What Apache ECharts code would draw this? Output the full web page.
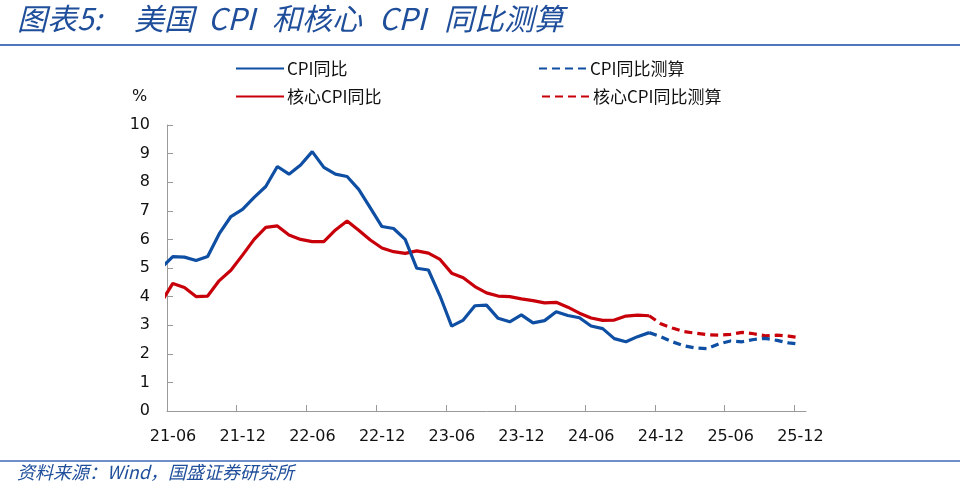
<!DOCTYPE html>
<html>
<head>
<meta charset="utf-8">
<script src="https://cdn.jsdelivr.net/npm/echarts@6/dist/echarts.min.js"></script>
<style>
html,body{margin:0;padding:0;background:#fff;}
#chart{width:960px;height:490px;}
</style>
</head>
<body>
<div id="chart"></div>
<script>
// Months (x categories), starting one month before the visible axis start
const months = ['21-05','21-06','21-07','21-08','21-09','21-10','21-11','21-12',
  '22-01','22-02','22-03','22-04','22-05','22-06','22-07','22-08','22-09','22-10','22-11','22-12',
  '23-01','23-02','23-03','23-04','23-05','23-06','23-07','23-08','23-09','23-10','23-11','23-12',
  '24-01','24-02','24-03','24-04','24-05','24-06','24-07','24-08','24-09','24-10','24-11','24-12',
  '25-01','25-02','25-03','25-04','25-05','25-06','25-07','25-08','25-09','25-10','25-11','25-12'];
const tickLabels = ['21-06','21-12','22-06','22-12','23-06','23-12','24-06','24-12','25-06','25-12'];
const yTicks = [0,1,2,3,4,5,6,7,8,9,10];

// Actual values 21-05 .. 24-11
const cpiActual = [5.0,5.4,5.38,5.26,5.4,6.2,6.8,7.05,
  7.47,7.85,8.55,8.28,8.6,9.07,8.52,8.28,8.2,7.75,7.1,6.45,
  6.38,6.0,4.99,4.93,4.02,2.97,3.18,3.68,3.7,3.24,3.12,3.36,
  3.08,3.16,3.47,3.34,3.26,2.97,2.88,2.53,2.42,2.6,2.74];
const coreActual = [3.8,4.46,4.32,4.0,4.02,4.56,4.92,5.45,
  6.0,6.42,6.47,6.15,6.0,5.92,5.92,6.33,6.64,6.32,5.98,5.7,
  5.57,5.51,5.6,5.52,5.3,4.82,4.66,4.35,4.13,4.02,4.0,3.92,
  3.86,3.78,3.8,3.63,3.42,3.25,3.17,3.18,3.32,3.35,3.33];
// Estimates 24-11 .. 25-12
const cpiForecast = [2.74,2.6,2.42,2.28,2.2,2.18,2.35,2.45,2.42,2.5,2.54,2.47,2.38,2.34];
const coreForecast = [3.33,3.05,2.9,2.78,2.72,2.67,2.65,2.68,2.75,2.7,2.63,2.65,2.62,2.56];

const titleParts = ['图表5:','美国','CPI','和核心','CPI','同比测算'];
const sourceText = '资料来源：Wind，国盛证券研究所';

const actualStart = months.indexOf('21-05');
const forecastStart = months.indexOf('24-11');
const axisStart = months.indexOf('21-06');

// month center on the value axis: axis boundary before 21-06 is 0
function pos(idx){ return idx - axisStart + 0.5; }
const toPairs = (arr, start) => arr.map((v,i)=>[pos(start+i), v]);

const tickVals = tickLabels.map(l => months.indexOf(l) - axisStart);
const axisMax = months.length - axisStart; // boundary after last month

const BLUE = '#0E4EA3';
const RED = '#C8000A';
const AXIS = '#9a9a9a';
const TXT = '#111';
const TITLE = '#1F4E9A';
const labelFont = 'DejaVu Sans';
const cjkFont = '"Noto Sans CJK SC", sans-serif';

const chart = echarts.init(document.getElementById('chart'), null, {renderer:'canvas'});

function legendAt(name, left, top){
  return {
    data:[name], left:left, top:top, orient:'horizontal',
    itemWidth:48, itemHeight:14, itemGap:4,
    itemStyle:{opacity:0},
    textStyle:{fontFamily:cjkFont, fontSize:17, color:TXT, padding:[0,0,0,-2]},
    selectedMode:false
  };
}

const titleX = [17, 134, 208, 272, 379, 444];
const titleGraphics = titleParts.map((t,i)=>({
  type:'text', left:titleX[i], top:4,
  style:{text:t, fontFamily:cjkFont, fontSize:30, fontStyle:'italic', fill:TITLE}
}));

chart.setOption({
  animation:false,
  backgroundColor:'#fff',
  grid:{left:167, right:154, top:125, bottom:79, containLabel:false},
  legend:[
    legendAt('CPI同比', 230, 55),
    legendAt('核心CPI同比', 230, 83),
    legendAt('CPI同比测算', 533, 55),
    legendAt('核心CPI同比测算', 536, 83)
  ],
  xAxis:{
    type:'value', min:0, max:axisMax,
    splitLine:{show:false},
    axisLine:{show:true, lineStyle:{color:AXIS, width:1}},
    axisTick:{show:true, inside:true, length:6, lineStyle:{color:AXIS}, customValues:tickVals},
    axisLabel:{
      customValues:tickVals,
      fontFamily:labelFont, fontSize:16, color:TXT, margin:18,
      padding:[0,0,0,12],
      formatter:function(v){ const i = tickVals.indexOf(Math.round(v)); return i>=0 ? tickLabels[i] : ''; }
    }
  },
  yAxis:{
    type:'value', min:0, max:10, interval:1,
    splitLine:{show:false},
    axisLine:{show:true, lineStyle:{color:AXIS, width:1}},
    axisTick:{show:true, inside:true, length:6, lineStyle:{color:AXIS}},
    axisLabel:{fontFamily:labelFont, fontSize:16, color:TXT, margin:17,
      formatter:function(v){ return yTicks.indexOf(v)>=0 ? String(v) : ''; }}
  },
  series:[
    {name:'CPI同比', type:'line', data:toPairs(cpiActual, actualStart), symbol:'none', clip:true,
      lineStyle:{color:BLUE, width:3.2}, itemStyle:{color:BLUE}, z:3},
    {name:'核心CPI同比', type:'line', data:toPairs(coreActual, actualStart), symbol:'none', clip:true,
      lineStyle:{color:RED, width:3.2}, itemStyle:{color:RED}, z:2},
    {name:'CPI同比测算', type:'line', data:toPairs(cpiForecast, forecastStart), symbol:'none', clip:true,
      lineStyle:{color:BLUE, width:3.2, type:[8,5]}, itemStyle:{color:BLUE}, z:3},
    {name:'核心CPI同比测算', type:'line', data:toPairs(coreForecast, forecastStart), symbol:'none', clip:true,
      lineStyle:{color:RED, width:3.2, type:[8,5]}, itemStyle:{color:RED}, z:2}
  ],
  graphic: titleGraphics.concat([
    {type:'rect', shape:{x:0, y:44, width:960, height:2}, style:{fill:'#4F75BC'}},
    {type:'text', left:132, top:89, style:{text:'%', fontFamily:labelFont, fontSize:16, fill:TXT}},
    {type:'rect', shape:{x:0, y:460, width:960, height:2}, style:{fill:'#6F8FCB'}},
    {type:'text', left:17, top:463, style:{text:sourceText,
      fontFamily:cjkFont, fontSize:18, fontStyle:'italic', fill:TITLE}}
  ])
});
</script>
</body>
</html>
